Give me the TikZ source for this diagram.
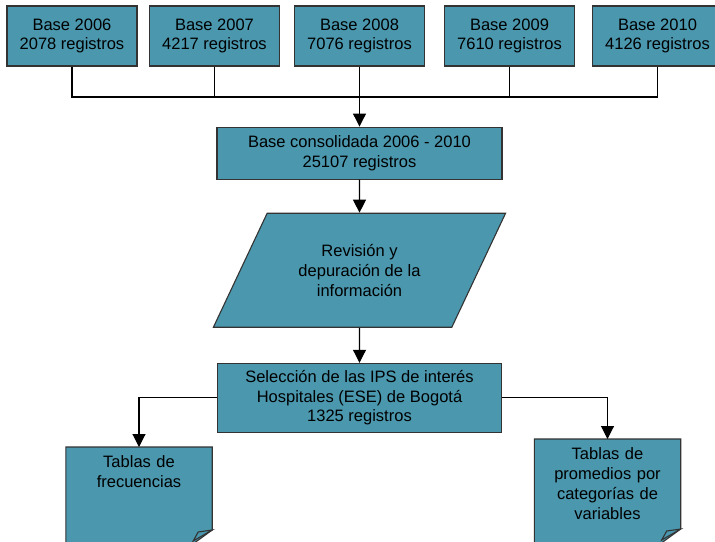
\documentclass[tikz,border=0pt]{standalone}
\usepackage{fontspec}
\setmainfont{Liberation Sans}
\usetikzlibrary{shapes.geometric, backgrounds, positioning, arrows.meta}
\definecolor{tealbox}{RGB}{74,151,174}

\begin{document}
\begin{tikzpicture}[
		x=1pt, y=-1pt,
		font=\fontsize{16.5}{19.8}\selectfont,
		box/.style={draw=black!80, fill=tealbox, rectangle, minimum width=130pt, minimum height=60pt, align=center, line width=1.1pt, inner sep=2pt},
		wide/.style={box, minimum width=285pt, minimum height=52pt},
		slant/.style={draw=black!80, fill=tealbox, trapezium, trapezium left angle=57.4, trapezium right angle=122.6, minimum width=293pt, minimum height=114pt, trapezium stretches=true, align=center, line width=1.1pt},
		doc/.style={anchor=north, minimum width=146pt, text width=135pt, align=center, inner ysep=8.5pt},
		docshape/.style={draw=black!80, fill=tealbox, line width=1.1pt},
		line/.style={draw=black, line width=1.1pt},
		arrow/.style={line, -{Triangle[length=13pt, width=13pt]}}
		]
		\useasboundingbox (0,0) rectangle (715,541);
		
		% Bases
		\node[box] (b06) at (72,36) {Base 2006\\2078 registros};
		\node[box] (b07) at (214.5,36) {Base 2007\\4217 registros};
		\node[box] (b08) at (359.5,36) {Base 2008\\7076 registros};
		\node[box] (b09) at (509.5,36) {Base 2009\\7610 registros};
		\node[box] (b10) at (657.5,36) {Base 2010\\4126 registros};
		\coordinate (hub) at (359.5,97);
		
		% Chain
		\node[wide, below=60pt of b08] (cons) {Base consolidada 2006 - 2010\\25107 registros};
		\node[slant, below=33pt of cons] (depur) {Revisión y\\depuración de la\\información};
		\node[wide, minimum width=284pt, minimum height=69pt, below=35pt of depur] (sel) {Selección de las IPS de interés\\Hospitales (ESE) de Bogotá\\1325 registros};
		
		% Outputs
		\node[doc] (freq) at (139,447) {Tablas de\\frecuencias};
		\node[doc] (prom) at (607.5,439) {Tablas de\\promedios por\\categorías de\\variables};
		
		\begin{scope}[on background layer]
			\path[docshape] (freq.north west) -- (freq.north east) -- ++(0,83) -- ++(-22,16) -| (freq.north west) -- cycle;
			\path[docshape] ([shift={(0,83)}]freq.north east) -- ++(-14,2) -- ++(-5,9) -- cycle;
			\path[docshape] (prom.north west) -- (prom.north east) -- ++(0,90) -- ++(-22,16) -| (prom.north west) -- cycle;
			\path[docshape] ([shift={(0,90)}]prom.north east) -- ++(-14,2) -- ++(-5,9) -- cycle;
		\end{scope}
		
		% Connectors
		\foreach \b in {b06, b07, b09, b10}
			\draw[line] (\b.south) |- (hub);
		\draw[arrow] (b08) -- (cons);
		\draw[arrow] (cons) -- (depur);
		\draw[arrow] (depur) -- (sel);
		\draw[arrow] (sel.west) -| (freq.north);
		\draw[arrow] (sel.east) -| (prom.north);
		
	\end{tikzpicture}
\end{document}
